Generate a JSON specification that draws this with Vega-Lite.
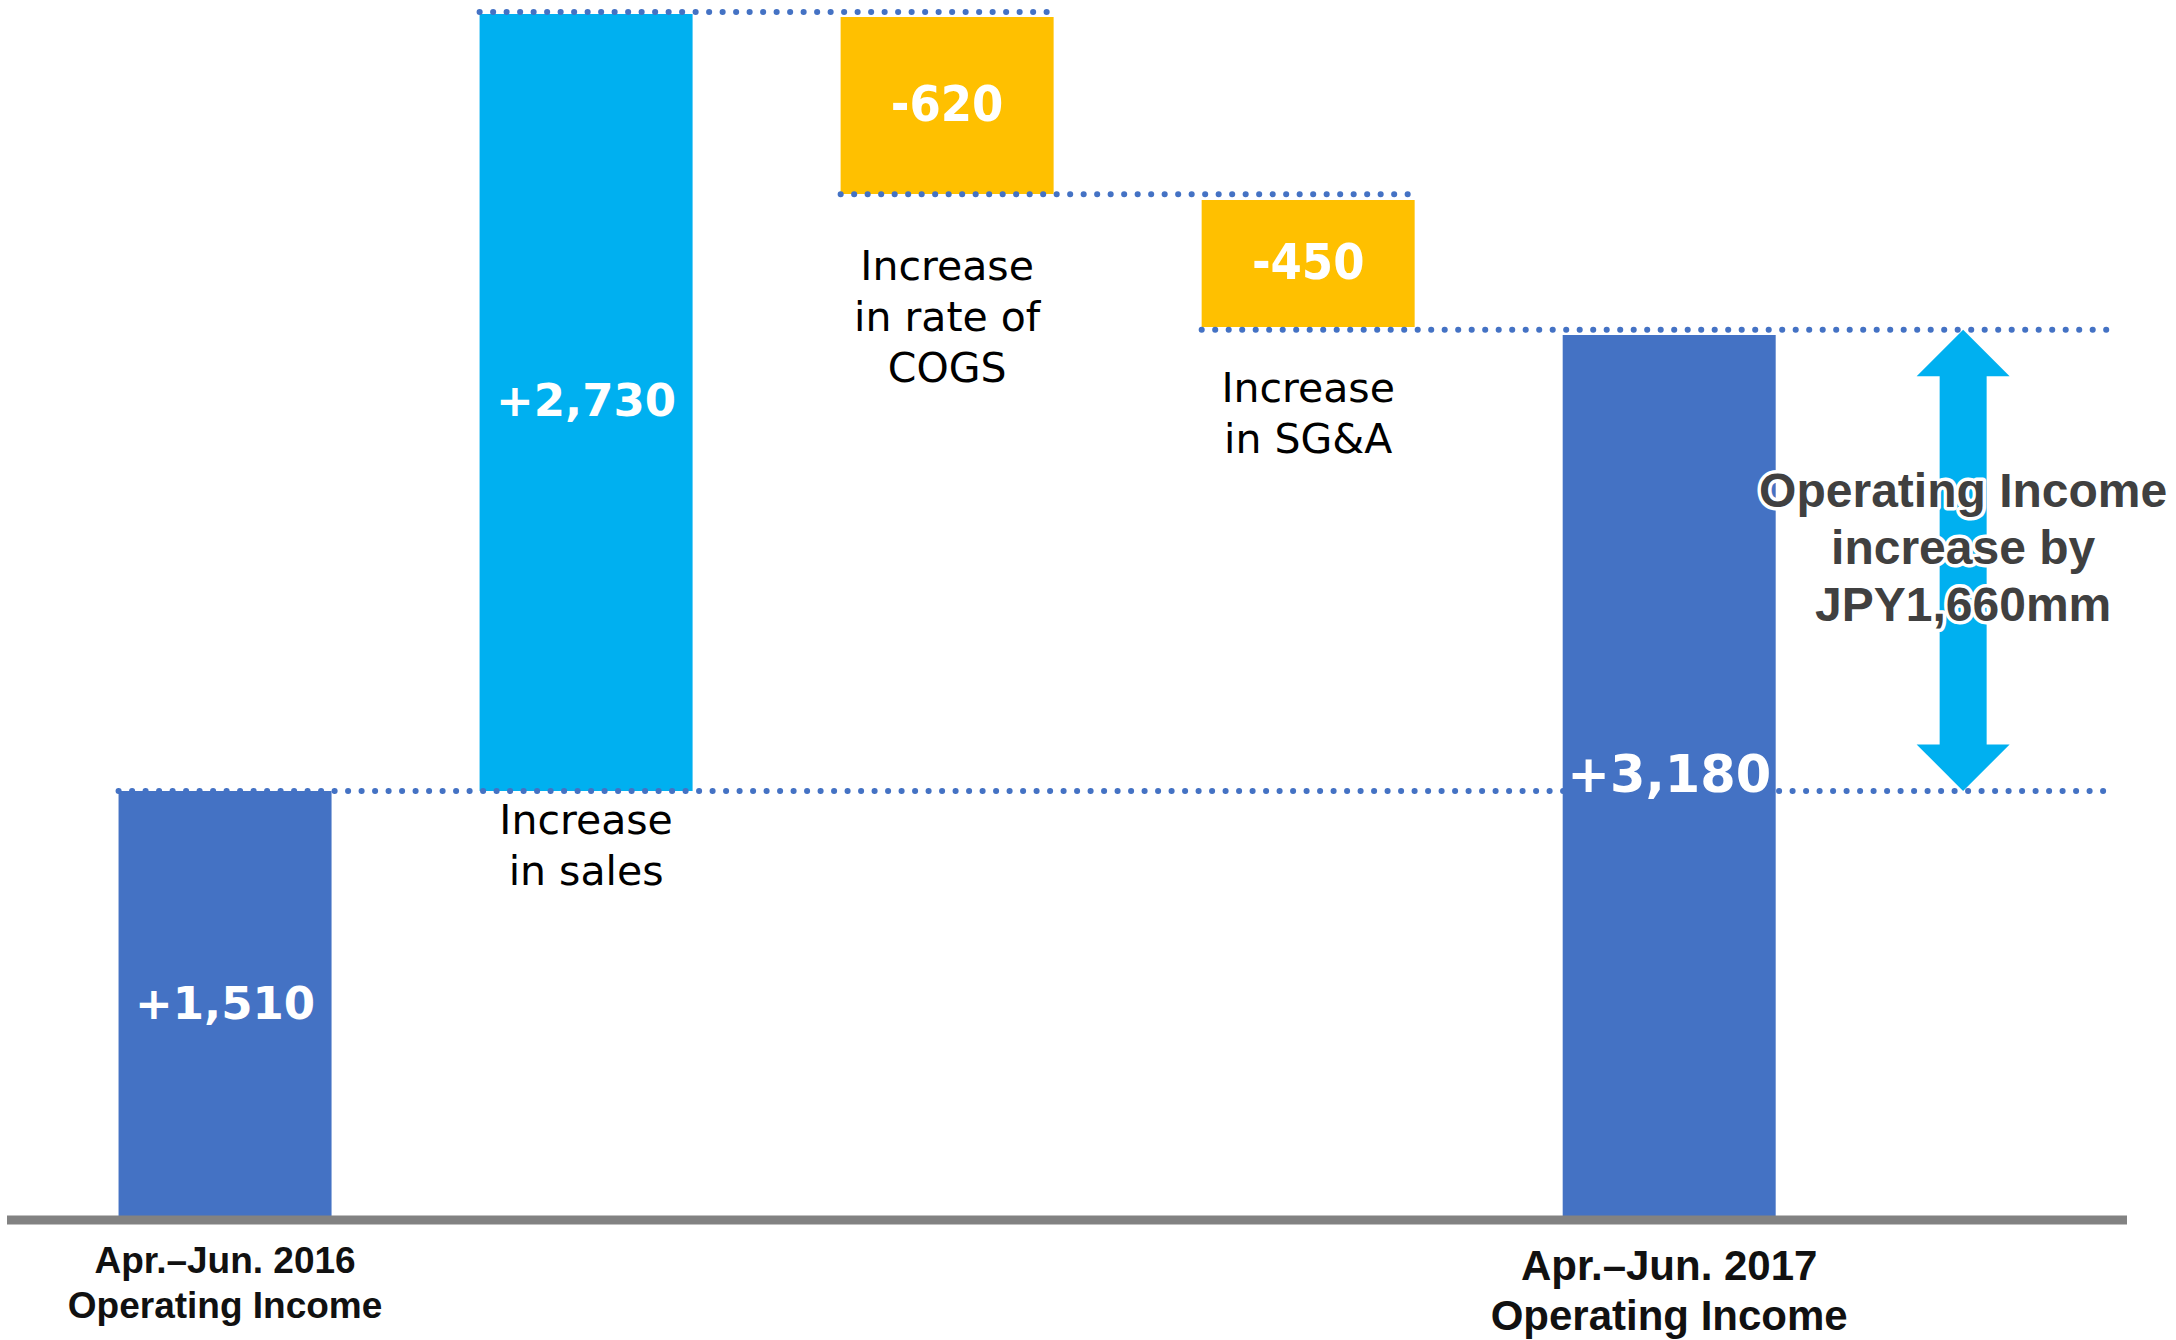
{
  "$schema": "https://vega.github.io/schema/vega-lite/v6.json",
  "width": 2120,
  "height": 1220,
  "autosize": {"type": "none"},
  "padding": {"left": 7, "top": 0, "right": 49, "bottom": 120},
  "background": "white",
  "view": {"stroke": null},
  "datasets": {
    "steps": [
      {"step": "Apr.–Jun. 2016 Operating Income", "kind": "total", "start": 0, "end": 1510, "label": "+1,510", "caption": "Apr.–Jun. 2016\nOperating Income"},
      {"step": "Increase in sales", "kind": "increase", "start": 1510, "end": 4245, "label": "+2,730", "caption": "Increase\nin sales"},
      {"step": "Increase in rate of COGS", "kind": "decrease", "start": 4234, "end": 3611, "label": "-620", "caption": "Increase\nin rate of\nCOGS"},
      {"step": "Increase in SG&A", "kind": "decrease", "start": 3590, "end": 3143, "label": "-450", "caption": "Increase\nin SG&A"},
      {"step": "Apr.–Jun. 2017 Operating Income", "kind": "total", "start": 0, "end": 3115, "label": "+3,180", "caption": "Apr.–Jun. 2017\nOperating Income"}
    ],
    "levels": [
      {"from": "Increase in sales", "to": "Increase in rate of COGS", "level": 4252},
      {"from": "Increase in rate of COGS", "to": "Increase in SG&A", "level": 3610},
      {"from": "Increase in SG&A", "to": "Apr.–Jun. 2017 Operating Income", "level": 3133},
      {"from": "Apr.–Jun. 2016 Operating Income", "to": "Apr.–Jun. 2017 Operating Income", "level": 1510}
    ],
    "change": [
      {"step": "Apr.–Jun. 2017 Operating Income", "end": "top", "level": 3133},
      {"step": "Apr.–Jun. 2017 Operating Income", "end": "bottom", "level": 1510}
    ]
  },
  "layer": [
    {
      "data": {"name": "steps"},
      "transform": [{"filter": {"not": {"field": "step", "equal": "Apr.–Jun. 2017 Operating Income"}}}],
      "mark": {"type": "bar"},
      "encoding": {
        "x": {"field": "step", "type": "nominal", "axis": null, "scale": {"domain": ["Apr.–Jun. 2016 Operating Income", "Increase in sales", "Increase in rate of COGS", "Increase in SG&A", "Apr.–Jun. 2017 Operating Income"], "paddingInner": 0.41, "paddingOuter": 0.641, "align": 0.241}},
        "y": {"field": "start", "type": "quantitative", "axis": null, "scale": {"domain": [0, 4294], "nice": false}},
        "y2": {"field": "end"},
        "color": {"field": "kind", "type": "nominal", "legend": null, "scale": {"domain": ["total", "increase", "decrease"], "range": ["#4472C4", "#00B0F0", "#FFC000"]}}
      }
    },
    {
      "data": {"name": "levels"},
      "transform": [{"filter": {"not": {"field": "to", "equal": "Apr.–Jun. 2017 Operating Income"}}}],
      "mark": {"type": "rule", "color": "#4472C4", "strokeWidth": 6, "strokeDash": [0.1, 13.4], "strokeCap": "round"},
      "encoding": {
        "x": {"field": "from", "type": "nominal", "bandPosition": 0, "axis": null, "scale": {"domain": ["Apr.–Jun. 2016 Operating Income", "Increase in sales", "Increase in rate of COGS", "Increase in SG&A", "Apr.–Jun. 2017 Operating Income"], "paddingInner": 0.41, "paddingOuter": 0.641, "align": 0.241}},
        "x2": {"field": "to", "bandPosition": 1},
        "y": {"field": "level", "type": "quantitative", "axis": null, "scale": {"domain": [0, 4294], "nice": false}}
      }
    },
    {
      "data": {"name": "levels"},
      "transform": [{"filter": {"field": "to", "equal": "Apr.–Jun. 2017 Operating Income"}}],
      "mark": {"type": "rule", "color": "#4472C4", "strokeWidth": 6, "strokeDash": [0.1, 13.4], "strokeCap": "round"},
      "encoding": {
        "x": {"field": "from", "type": "nominal", "bandPosition": 0, "axis": null, "scale": {"domain": ["Apr.–Jun. 2016 Operating Income", "Increase in sales", "Increase in rate of COGS", "Increase in SG&A", "Apr.–Jun. 2017 Operating Income"], "paddingInner": 0.41, "paddingOuter": 0.641, "align": 0.241}},
        "x2": {"field": "to", "bandPosition": 2.57},
        "y": {"field": "level", "type": "quantitative", "axis": null, "scale": {"domain": [0, 4294], "nice": false}}
      }
    },
    {
      "data": {"name": "steps"},
      "transform": [{"filter": {"field": "step", "equal": "Apr.–Jun. 2017 Operating Income"}}],
      "mark": {"type": "bar"},
      "encoding": {
        "x": {"field": "step", "type": "nominal", "axis": null, "scale": {"domain": ["Apr.–Jun. 2016 Operating Income", "Increase in sales", "Increase in rate of COGS", "Increase in SG&A", "Apr.–Jun. 2017 Operating Income"], "paddingInner": 0.41, "paddingOuter": 0.641, "align": 0.241}},
        "y": {"field": "start", "type": "quantitative", "axis": null, "scale": {"domain": [0, 4294], "nice": false}},
        "y2": {"field": "end"},
        "color": {"field": "kind", "type": "nominal", "legend": null, "scale": {"domain": ["total", "increase", "decrease"], "range": ["#4472C4", "#00B0F0", "#FFC000"]}}
      }
    },
    {
      "data": {"name": "steps"},
      "transform": [{"filter": {"field": "step", "equal": "Apr.–Jun. 2016 Operating Income"}}],
      "mark": {"type": "rule", "color": "#828282", "strokeWidth": 9},
      "encoding": {
        "y": {"datum": 0, "type": "quantitative", "axis": null, "scale": {"domain": [0, 4294], "nice": false}}
      }
    },
    {
      "data": {"name": "steps"},
      "transform": [
        {"filter": {"field": "step", "oneOf": ["Apr.–Jun. 2016 Operating Income", "Increase in sales"]}},
        {"fold": ["start", "end"], "as": ["edge", "v"]}
      ],
      "mark": {"type": "text", "color": "white", "font": "DejaVu Sans", "fontWeight": "bold", "fontSize": 45, "baseline": "middle", "align": "center"},
      "encoding": {
        "x": {"field": "step", "type": "nominal", "axis": null, "scale": {"domain": ["Apr.–Jun. 2016 Operating Income", "Increase in sales", "Increase in rate of COGS", "Increase in SG&A", "Apr.–Jun. 2017 Operating Income"], "paddingInner": 0.41, "paddingOuter": 0.641, "align": 0.241}},
        "y": {"aggregate": "mean", "field": "v", "type": "quantitative", "axis": null, "scale": {"domain": [0, 4294], "nice": false}},
        "text": {"field": "label", "type": "nominal"}
      }
    },
    {
      "data": {"name": "steps"},
      "transform": [
        {"filter": {"field": "step", "equal": "Apr.–Jun. 2017 Operating Income"}},
        {"fold": ["start", "end"], "as": ["edge", "v"]}
      ],
      "mark": {"type": "text", "color": "white", "font": "DejaVu Sans", "fontWeight": "bold", "fontSize": 51, "baseline": "middle", "align": "center"},
      "encoding": {
        "x": {"field": "step", "type": "nominal", "axis": null, "scale": {"domain": ["Apr.–Jun. 2016 Operating Income", "Increase in sales", "Increase in rate of COGS", "Increase in SG&A", "Apr.–Jun. 2017 Operating Income"], "paddingInner": 0.41, "paddingOuter": 0.641, "align": 0.241}},
        "y": {"aggregate": "mean", "field": "v", "type": "quantitative", "axis": null, "scale": {"domain": [0, 4294], "nice": false}},
        "text": {"field": "label", "type": "nominal"}
      }
    },
    {
      "data": {"name": "steps"},
      "transform": [
        {"filter": {"field": "kind", "equal": "decrease"}},
        {"fold": ["start", "end"], "as": ["edge", "v"]}
      ],
      "mark": {"type": "text", "color": "white", "font": "DejaVu Sans Condensed", "fontWeight": "bold", "fontSize": 50, "baseline": "middle", "align": "center"},
      "encoding": {
        "x": {"field": "step", "type": "nominal", "axis": null, "scale": {"domain": ["Apr.–Jun. 2016 Operating Income", "Increase in sales", "Increase in rate of COGS", "Increase in SG&A", "Apr.–Jun. 2017 Operating Income"], "paddingInner": 0.41, "paddingOuter": 0.641, "align": 0.241}},
        "y": {"aggregate": "mean", "field": "v", "type": "quantitative", "axis": null, "scale": {"domain": [0, 4294], "nice": false}},
        "text": {"field": "label", "type": "nominal"}
      }
    },
    {
      "data": {"name": "steps"},
      "transform": [
        {"filter": {"field": "step", "equal": "Increase in sales"}},
        {"fold": ["start", "end"], "as": ["edge", "v"]}
      ],
      "mark": {"type": "text", "color": "black", "font": "DejaVu Sans", "fontSize": 41, "lineHeight": 51, "lineBreak": "\n", "baseline": "alphabetic", "align": "center", "dy": 43},
      "encoding": {
        "x": {"field": "step", "type": "nominal", "axis": null, "scale": {"domain": ["Apr.–Jun. 2016 Operating Income", "Increase in sales", "Increase in rate of COGS", "Increase in SG&A", "Apr.–Jun. 2017 Operating Income"], "paddingInner": 0.41, "paddingOuter": 0.641, "align": 0.241}},
        "y": {"aggregate": "min", "field": "v", "type": "quantitative", "axis": null, "scale": {"domain": [0, 4294], "nice": false}},
        "text": {"field": "caption", "type": "nominal"}
      }
    },
    {
      "data": {"name": "steps"},
      "transform": [
        {"filter": {"field": "step", "equal": "Increase in rate of COGS"}},
        {"fold": ["start", "end"], "as": ["edge", "v"]}
      ],
      "mark": {"type": "text", "color": "black", "font": "DejaVu Sans", "fontSize": 41, "lineHeight": 51, "lineBreak": "\n", "baseline": "alphabetic", "align": "center", "dy": 86},
      "encoding": {
        "x": {"field": "step", "type": "nominal", "axis": null, "scale": {"domain": ["Apr.–Jun. 2016 Operating Income", "Increase in sales", "Increase in rate of COGS", "Increase in SG&A", "Apr.–Jun. 2017 Operating Income"], "paddingInner": 0.41, "paddingOuter": 0.641, "align": 0.241}},
        "y": {"aggregate": "min", "field": "v", "type": "quantitative", "axis": null, "scale": {"domain": [0, 4294], "nice": false}},
        "text": {"field": "caption", "type": "nominal"}
      }
    },
    {
      "data": {"name": "steps"},
      "transform": [
        {"filter": {"field": "step", "equal": "Increase in SG&A"}},
        {"fold": ["start", "end"], "as": ["edge", "v"]}
      ],
      "mark": {"type": "text", "color": "black", "font": "DejaVu Sans", "fontSize": 41, "lineHeight": 51, "lineBreak": "\n", "baseline": "alphabetic", "align": "center", "dy": 75},
      "encoding": {
        "x": {"field": "step", "type": "nominal", "axis": null, "scale": {"domain": ["Apr.–Jun. 2016 Operating Income", "Increase in sales", "Increase in rate of COGS", "Increase in SG&A", "Apr.–Jun. 2017 Operating Income"], "paddingInner": 0.41, "paddingOuter": 0.641, "align": 0.241}},
        "y": {"aggregate": "min", "field": "v", "type": "quantitative", "axis": null, "scale": {"domain": [0, 4294], "nice": false}},
        "text": {"field": "caption", "type": "nominal"}
      }
    },
    {
      "data": {"name": "steps"},
      "transform": [{"filter": {"field": "step", "equal": "Apr.–Jun. 2016 Operating Income"}}],
      "mark": {"type": "text", "color": "#111111", "font": "Liberation Sans", "fontWeight": "bold", "fontSize": 37, "lineHeight": 45, "lineBreak": "\n", "baseline": "alphabetic", "align": "center", "dy": 53},
      "encoding": {
        "x": {"field": "step", "type": "nominal", "axis": null, "scale": {"domain": ["Apr.–Jun. 2016 Operating Income", "Increase in sales", "Increase in rate of COGS", "Increase in SG&A", "Apr.–Jun. 2017 Operating Income"], "paddingInner": 0.41, "paddingOuter": 0.641, "align": 0.241}},
        "y": {"field": "start", "type": "quantitative", "axis": null, "scale": {"domain": [0, 4294], "nice": false}},
        "text": {"field": "caption", "type": "nominal"}
      }
    },
    {
      "data": {"name": "steps"},
      "transform": [{"filter": {"field": "step", "equal": "Apr.–Jun. 2017 Operating Income"}}],
      "mark": {"type": "text", "color": "#111111", "font": "Liberation Sans", "fontWeight": "bold", "fontSize": 42, "lineHeight": 50, "lineBreak": "\n", "baseline": "alphabetic", "align": "center", "dy": 60},
      "encoding": {
        "x": {"field": "step", "type": "nominal", "axis": null, "scale": {"domain": ["Apr.–Jun. 2016 Operating Income", "Increase in sales", "Increase in rate of COGS", "Increase in SG&A", "Apr.–Jun. 2017 Operating Income"], "paddingInner": 0.41, "paddingOuter": 0.641, "align": 0.241}},
        "y": {"field": "start", "type": "quantitative", "axis": null, "scale": {"domain": [0, 4294], "nice": false}},
        "text": {"field": "caption", "type": "nominal"}
      }
    },
    {
      "data": {"name": "change"},
      "mark": {"type": "rule", "color": "#00B0F0", "strokeWidth": 47, "strokeCap": "butt", "yOffset": 44, "y2Offset": -44},
      "encoding": {
        "x": {"field": "step", "type": "nominal", "bandPosition": 1.88, "axis": null, "scale": {"domain": ["Apr.–Jun. 2016 Operating Income", "Increase in sales", "Increase in rate of COGS", "Increase in SG&A", "Apr.–Jun. 2017 Operating Income"], "paddingInner": 0.41, "paddingOuter": 0.641, "align": 0.241}},
        "y": {"aggregate": "max", "field": "level", "type": "quantitative", "axis": null, "scale": {"domain": [0, 4294], "nice": false}},
        "y2": {"aggregate": "min", "field": "level"}
      }
    },
    {
      "data": {"name": "change"},
      "mark": {"type": "point", "filled": true, "opacity": 1, "color": "#00B0F0", "strokeWidth": 0, "size": 8649},
      "encoding": {
        "x": {"field": "step", "type": "nominal", "bandPosition": 1.88, "axis": null, "scale": {"domain": ["Apr.–Jun. 2016 Operating Income", "Increase in sales", "Increase in rate of COGS", "Increase in SG&A", "Apr.–Jun. 2017 Operating Income"], "paddingInner": 0.41, "paddingOuter": 0.641, "align": 0.241}},
        "y": {"field": "level", "type": "quantitative", "axis": null, "scale": {"domain": [0, 4294], "nice": false}},
        "shape": {"field": "end", "type": "nominal", "legend": null, "scale": {"domain": ["top", "bottom"], "range": ["M0,0L1,1L-1,1Z", "M0,0L1,-1L-1,-1Z"]}}
      }
    },
    {
      "data": {"name": "change"},
      "mark": {"type": "text", "text": "Operating Income\nincrease by\nJPY1,660mm", "lineBreak": "\n", "font": "Liberation Sans", "fontWeight": "bold", "fontSize": 48, "lineHeight": 57, "align": "center", "baseline": "middle", "dy": -67, "color": "white", "stroke": "white", "strokeWidth": 7, "strokeJoin": "round"},
      "encoding": {
        "x": {"field": "step", "type": "nominal", "bandPosition": 1.88, "axis": null, "scale": {"domain": ["Apr.–Jun. 2016 Operating Income", "Increase in sales", "Increase in rate of COGS", "Increase in SG&A", "Apr.–Jun. 2017 Operating Income"], "paddingInner": 0.41, "paddingOuter": 0.641, "align": 0.241}},
        "y": {"aggregate": "mean", "field": "level", "type": "quantitative", "axis": null, "scale": {"domain": [0, 4294], "nice": false}}
      }
    },
    {
      "data": {"name": "change"},
      "mark": {"type": "text", "text": "Operating Income\nincrease by\nJPY1,660mm", "lineBreak": "\n", "font": "Liberation Sans", "fontWeight": "bold", "fontSize": 48, "lineHeight": 57, "align": "center", "baseline": "middle", "dy": -67, "color": "#404040"},
      "encoding": {
        "x": {"field": "step", "type": "nominal", "bandPosition": 1.88, "axis": null, "scale": {"domain": ["Apr.–Jun. 2016 Operating Income", "Increase in sales", "Increase in rate of COGS", "Increase in SG&A", "Apr.–Jun. 2017 Operating Income"], "paddingInner": 0.41, "paddingOuter": 0.641, "align": 0.241}},
        "y": {"aggregate": "mean", "field": "level", "type": "quantitative", "axis": null, "scale": {"domain": [0, 4294], "nice": false}}
      }
    }
  ]
}
